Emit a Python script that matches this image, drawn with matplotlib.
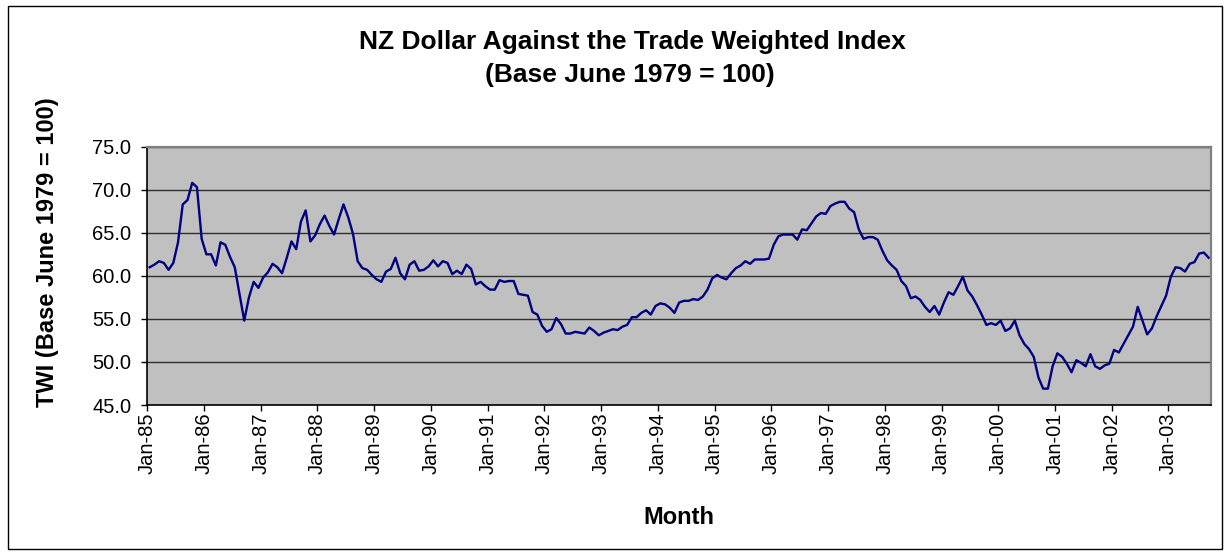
import numpy as np
import matplotlib
matplotlib.use("Agg")
import matplotlib.pyplot as plt
from matplotlib.patches import Rectangle

plt.rcParams['font.family'] = ['Liberation Sans', 'DejaVu Sans']

# ---------------------------------------------------------------------------
# Monthly TWI values, Jan-85 .. Sep-03
# ---------------------------------------------------------------------------
twi_1985_88 = [61.0, 61.3, 61.7, 61.5, 60.7, 61.5, 63.9, 68.3, 68.8, 70.8, 70.3, 64.3,
               62.5, 62.5, 61.2, 63.9, 63.6, 62.2, 61.0, 57.9, 54.8, 57.5, 59.3, 58.6,
               59.8, 60.4, 61.4, 61.0, 60.3, 62.1, 64.0, 63.1, 66.3, 67.6, 64.0, 64.7,
               66.0, 67.0, 65.8, 64.8, 66.6, 68.3, 66.8, 64.9, 61.7, 60.9, 60.7, 60.1]
twi_1989_92 = [59.6, 59.3, 60.5, 60.8, 62.1, 60.3, 59.6, 61.3, 61.7, 60.6, 60.7, 61.1,
               61.8, 61.1, 61.7, 61.5, 60.2, 60.6, 60.2, 61.3, 60.8, 59.0, 59.3, 58.8,
               58.4, 58.4, 59.5, 59.3, 59.4, 59.4, 57.9, 57.8, 57.7, 55.8, 55.5, 54.2,
               53.5, 53.8, 55.1, 54.4, 53.3, 53.3, 53.5, 53.4, 53.3, 54.0, 53.6, 53.1]
twi_1993_96 = [53.4, 53.6, 53.8, 53.7, 54.1, 54.3, 55.2, 55.2, 55.7, 56.0, 55.5, 56.5,
               56.8, 56.7, 56.3, 55.7, 56.9, 57.1, 57.1, 57.3, 57.2, 57.6, 58.4, 59.7,
               60.1, 59.8, 59.6, 60.3, 60.9, 61.2, 61.7, 61.4, 61.9, 61.9, 61.9, 62.0,
               63.6, 64.6, 64.8, 64.8, 64.8, 64.2, 65.4, 65.3, 66.1, 66.9, 67.3, 67.2]
twi_1997_00 = [68.1, 68.4, 68.6, 68.6, 67.8, 67.4, 65.4, 64.3, 64.5, 64.5, 64.2, 62.9,
               61.8, 61.2, 60.7, 59.4, 58.8, 57.4, 57.6, 57.2, 56.4, 55.8, 56.5, 55.5,
               56.9, 58.1, 57.8, 58.8, 59.9, 58.3, 57.6, 56.6, 55.5, 54.3, 54.5, 54.3,
               54.8, 53.6, 53.9, 54.8, 53.1, 52.1, 51.5, 50.6, 48.2, 46.9, 46.9, 49.5]
twi_2001_03 = [51.0, 50.6, 49.8, 48.8, 50.2, 49.9, 49.5, 50.9, 49.5, 49.2, 49.6, 49.8,
               51.4, 51.1, 52.1, 53.1, 54.1, 56.4, 54.8, 53.2, 53.9, 55.3, 56.5, 57.7,
               59.9, 61.0, 60.9, 60.5, 61.4, 61.6, 62.6, 62.7, 62.1]

twi = twi_1985_88 + twi_1989_92 + twi_1993_96 + twi_1997_00 + twi_2001_03

year_labels = ['Jan-85', 'Jan-86', 'Jan-87', 'Jan-88', 'Jan-89', 'Jan-90', 'Jan-91',
               'Jan-92', 'Jan-93', 'Jan-94', 'Jan-95', 'Jan-96', 'Jan-97', 'Jan-98',
               'Jan-99', 'Jan-00', 'Jan-01', 'Jan-02', 'Jan-03']
y_ticks = [45.0, 50.0, 55.0, 60.0, 65.0, 70.0, 75.0]

# ---------------------------------------------------------------------------
# Figure, laid out in pixels like the Excel original
# ---------------------------------------------------------------------------
W, H = 1230, 556
fig = plt.figure(figsize=(W / 100, H / 100), dpi=100)

left, right, top, bottom = 147.3, 1211.0, 146.7, 405.0
ax = fig.add_axes([left / W, 1 - bottom / H, (right - left) / W, (bottom - top) / H])
ax.set_facecolor('#C0C0C0')

x = np.arange(len(twi))
ax.plot(x, twi, color='#000080', lw=1.7, solid_joinstyle='round')

ax.set_xlim(-0.5, len(twi) - 0.5)
ax.set_ylim(y_ticks[0], y_ticks[-1])
ax.set_xticks(np.arange(len(year_labels)) * 12 - 0.5)
ax.set_xticklabels(year_labels, rotation=90, fontsize=14.5)
ax.set_yticks(y_ticks)
ax.set_yticklabels([f"{v:.1f}" for v in y_ticks], fontsize=14.5)

ax.yaxis.grid(True, color='#303030', lw=1.0)
ax.set_axisbelow(True)

ax.tick_params(axis='x', direction='out', length=4, width=1, pad=1.5)
ax.tick_params(axis='y', direction='out', length=4, width=1, pad=7.5)

for side in ['left', 'bottom']:
    ax.spines[side].set_color('black')
    ax.spines[side].set_linewidth(1.2)
for side in ['top', 'right']:
    ax.spines[side].set_color('#808080')
    ax.spines[side].set_linewidth(1.6)

# titles and axis labels
fig.text(632 / W, 1 - 42 / H, "NZ Dollar Against the Trade Weighted Index",
         ha='center', va='center', fontsize=19, fontweight='bold')
fig.text(630 / W, 1 - 75 / H, "(Base June 1979 = 100)",
         ha='center', va='center', fontsize=19, fontweight='bold')
fig.text(679 / W, 1 - 517 / H, "Month", ha='center', va='center',
         fontsize=17, fontweight='bold')
fig.text(48 / W, 1 - 252 / H, "TWI (Base June 1979 = 100)", ha='center', va='center',
         rotation=90, fontsize=17, fontweight='bold')

# outer chart border
fig.add_artist(Rectangle((7.5 / W, 1 - 549 / H), (1222 - 7.5) / W, (549 - 6) / H,
                         transform=fig.transFigure, fill=False, ec='black', lw=1.0))

fig.savefig("out.png", dpi=100)
